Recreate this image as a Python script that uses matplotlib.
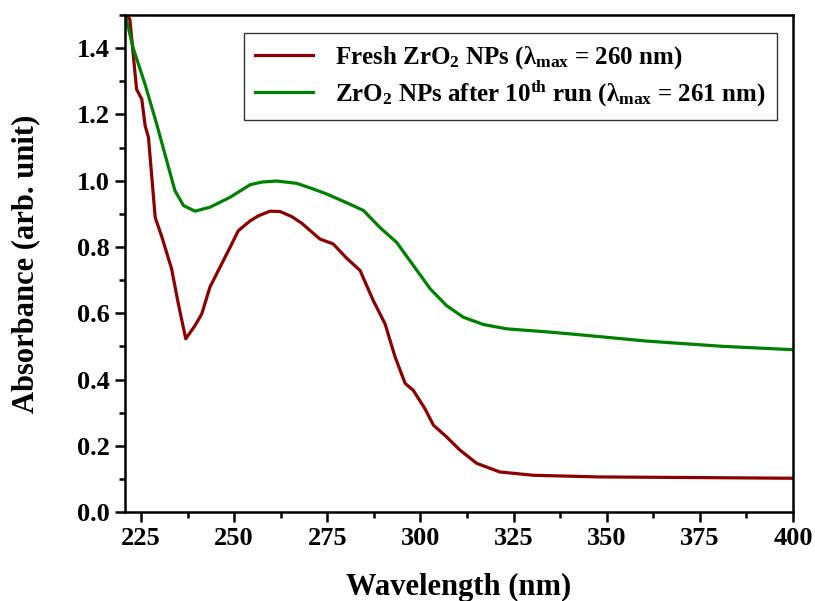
import matplotlib.pyplot as plt
from matplotlib.ticker import MultipleLocator

plt.rcParams['font.family'] = ['Liberation Serif', 'DejaVu Serif']
plt.rcParams['font.weight'] = 'bold'
plt.rcParams['mathtext.fontset'] = 'custom'
plt.rcParams['mathtext.rm'] = 'Liberation Serif:bold'
plt.rcParams['mathtext.it'] = 'Liberation Serif:bold'
plt.rcParams['mathtext.bf'] = 'Liberation Serif:bold'

# fresh catalyst spectrum
wl_fresh = [221.2, 222.0, 223.8, 225.2, 226.1, 227.0, 228.8, 230.6, 233.2, 235.0,
            237.0, 239.5, 241.3, 243.5, 246.2, 248.9, 251.1, 254.3, 256.5, 259.6,
            262.3, 265.4, 268.1, 273.0, 276.6, 280.2, 283.8, 287.3, 290.5, 293.2,
            295.9, 298.1, 301.2, 303.5, 307.0, 310.6, 315.1, 321.3, 330.3, 348.0,
            375.0, 400.0]
abs_fresh = [1.50, 1.487, 1.276, 1.246, 1.166, 1.13, 0.889, 0.83, 0.734, 0.629,
             0.523, 0.563, 0.598, 0.679, 0.739, 0.799, 0.849, 0.879, 0.894, 0.908,
             0.907, 0.892, 0.872, 0.824, 0.809, 0.766, 0.729, 0.639, 0.568, 0.468,
             0.388, 0.367, 0.312, 0.262, 0.227, 0.187, 0.147, 0.121, 0.111, 0.106,
             0.104, 0.102]

# after 10th run
wl_used = [221.0, 222.9, 226.1, 229.2, 231.9, 234.1, 236.4, 239.5, 243.5, 248.9,
           254.3, 257.5, 261.4, 266.8, 271.2, 274.8, 281.1, 284.7, 289.1, 293.6,
           298.1, 302.6, 307.0, 311.5, 316.9, 323.1, 334.8, 342.8, 360.7, 381.3,
           400.0]
abs_used = [1.49, 1.40, 1.29, 1.171, 1.06, 0.970, 0.925, 0.908, 0.920, 0.950,
            0.988, 0.996, 0.999, 0.992, 0.975, 0.960, 0.929, 0.910, 0.859, 0.814,
            0.744, 0.674, 0.623, 0.588, 0.566, 0.553, 0.543, 0.535, 0.516, 0.500,
            0.490]

fig = plt.figure(figsize=(8.15, 6.01), dpi=100)
ax = fig.add_axes([0.1534, 0.148, 0.8196, 0.827])

ax.plot(wl_fresh, abs_fresh, color='#8b0000', lw=2.3,
        label=r'Fresh ZrO$_{2}$ NPs (λ$_{max}$ = 260 nm)')
ax.plot(wl_used, abs_used, color='#008000', lw=2.3,
        label=r'ZrO$_{2}$ NPs after 10$^{th}$ run (λ$_{max}$ = 261 nm)')

ax.set_xlim(220.7, 400)
ax.set_ylim(0, 1.5)
ax.xaxis.set_major_locator(MultipleLocator(25))
ax.xaxis.set_minor_locator(MultipleLocator(12.5))
ax.yaxis.set_major_locator(MultipleLocator(0.2))
ax.yaxis.set_minor_locator(MultipleLocator(0.1))
ax.yaxis.set_major_formatter(plt.FormatStrFormatter('%.1f'))

for s in ax.spines.values():
    s.set_linewidth(1.8)
ax.tick_params(which='major', length=7, width=1.8, labelsize=19, direction='out', pad=4)
ax.tick_params(which='minor', length=4, width=1.8, direction='out')

ax.set_xlabel('Wavelength (nm)', fontsize=22, fontweight='bold', labelpad=16)
ax.set_ylabel('Absorbance (arb. unit)', fontsize=22, fontweight='bold', labelpad=26)

leg = ax.legend(loc='upper right', bbox_to_anchor=(0.976, 0.964), borderaxespad=0,
                fontsize=18, frameon=True, fancybox=False, edgecolor='black',
                handlelength=2.3, handletextpad=0.9, borderpad=0.45, labelspacing=0.3)
leg.get_frame().set_linewidth(1.0)

fig.savefig('out.png', dpi=100)
